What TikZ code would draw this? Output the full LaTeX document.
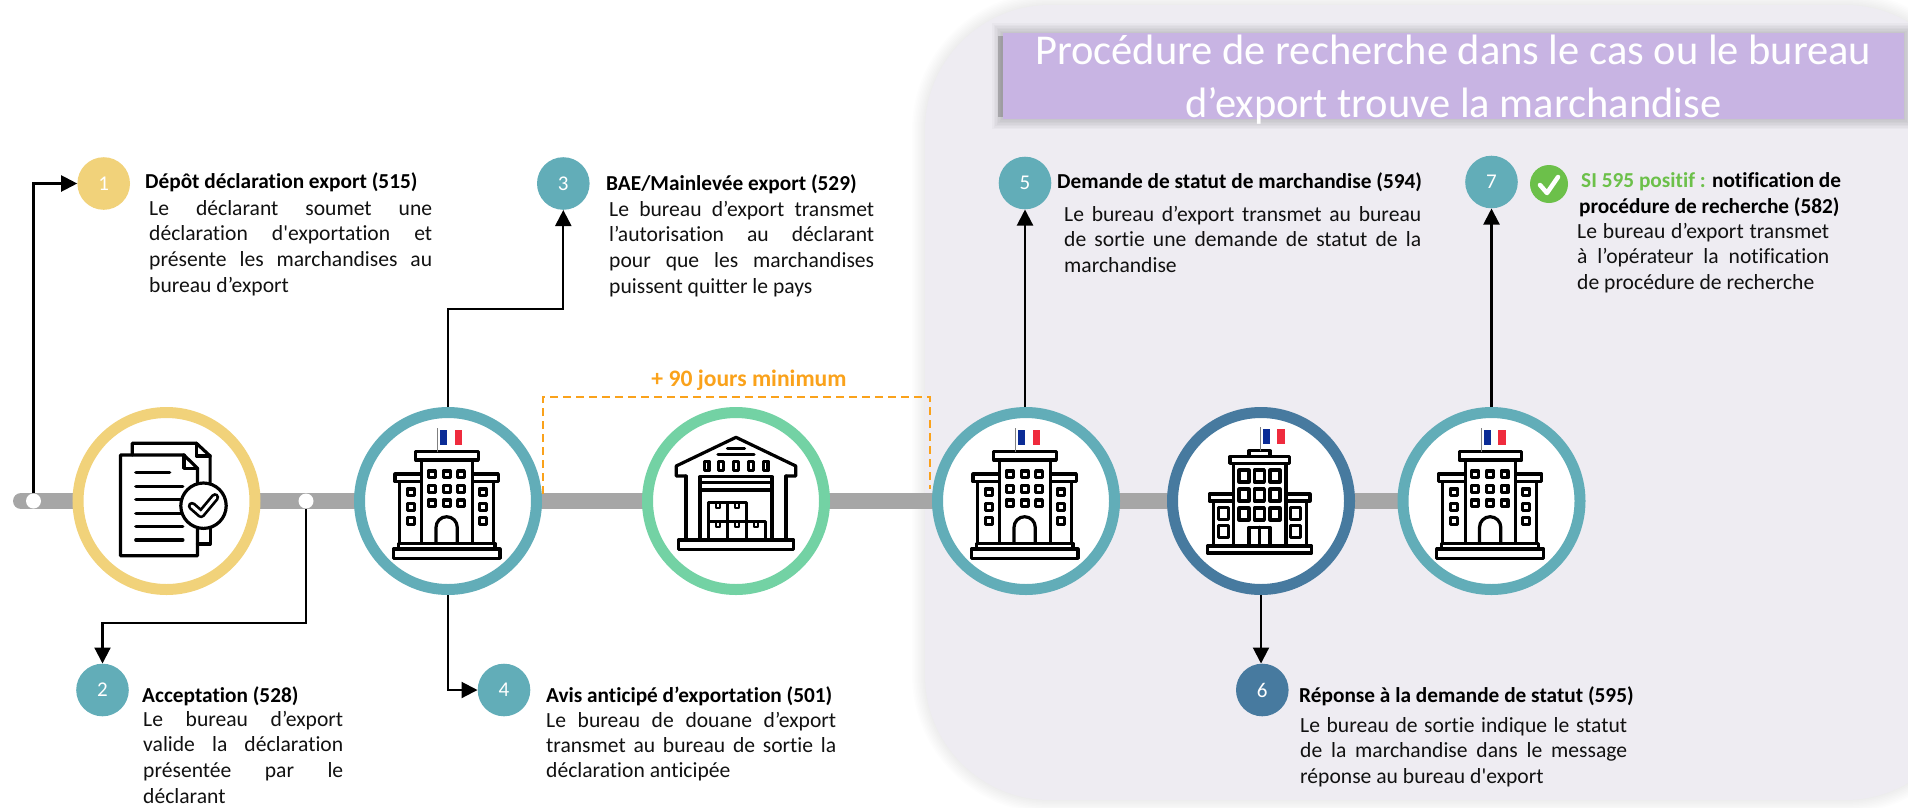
\documentclass[tikz,border=0pt]{standalone}
\usepackage{fontspec}
\setmainfont{Carlito}[Ligatures={TeXOff,CommonOff}]
\usetikzlibrary{arrows.meta}
\definecolor{cyellow}{HTML}{F1D27A}
\definecolor{cteal}{HTML}{62ADB8}
\definecolor{cgreen}{HTML}{73D2A4}
\definecolor{cdark}{HTML}{477A9F}
\definecolor{ctrack}{HTML}{A6A6A6}
\definecolor{cpanel}{HTML}{EEECF2}
\definecolor{cbar}{HTML}{C8B4E3}
\definecolor{corange}{HTML}{FAA21B}
\definecolor{cok}{HTML}{6CC04A}
\definecolor{ftxt}{HTML}{111111}
\definecolor{cfblue}{HTML}{0B2C96}
\definecolor{cfred}{HTML}{EF2B3D}
% one justified line, one left line, one centred line (width = \bw)
\newcommand{\myjl}[1]{\hbox to \bw{#1}}
\newcommand{\myll}[1]{\hbox to \bw{#1\hfil}}
\newcommand{\mycl}[1]{\hbox to \bw{\hfil #1\hfil}}
\newcommand{\myblock}[3]{\def\bw{#1}\vtop{\baselineskip=#2pt\lineskiplimit=-100pt\relax #3}}
\tikzset{
  x=1pt,y=-1pt,
  ring/.style={circle,draw=#1,line width=11pt,fill=white,minimum size=177pt,inner sep=0pt},
  num/.style={circle,fill=#1,text=white,minimum size=52.6pt,inner sep=0pt,font=\fontsize{21}{21}\selectfont},
  marker/.style={circle,fill=white,minimum size=15pt,inner sep=0pt},
  flow/.style={draw=black,line width=2.1pt,-{Triangle[length=16pt,width=16pt]}},
  head/.style={anchor=base west,inner sep=0pt,font=\fontsize{21.3}{21.3}\selectfont\bfseries,text=black},
  body/.style={anchor=base west,inner sep=0pt,font=\fontsize{21.6}{21.6}\selectfont,text=ftxt},
  icon/.style={line width=3.2pt,line join=round,line cap=round,draw=black},
  flagpic/.pic={
    \fill[white] (0,0) rectangle (22,14.5);
    \fill[cfblue] (0,0) rectangle (7.3,14.5);
    \fill[cfred] (14.7,0) rectangle (22,14.5);
    \draw[gray,line width=1.1pt] (-2.3,-2) -- (-2.3,22);
  },
  bldA/.pic={
    \draw[icon] (-54.7,48) rectangle (52,57.3);
    \draw[icon] (-49.7,42.3) rectangle (47,48);
    \draw[icon] (-53,-27) rectangle (-26.3,-19.3);
    \draw[icon] (24.3,-27) rectangle (50.3,-19.3);
    \draw[icon] (-48.7,-19.3) -- (-48.7,42.3);
    \draw[icon] (45.3,-19.3) -- (45.3,42.3);
    \draw[icon] (-26.3,-41) rectangle (24.3,42.3);
    \draw[icon] (-32.3,-49.3) rectangle (30.3,-41);
    \foreach \a in {-16.3,-1.3,13} \foreach \b in {-26.7,-12.3,2.3}
      \draw[icon,shift={(\a,\b)}] (-3.4,-3.4) rectangle (3.4,3.4);
    \foreach \a in {-37.3,34.7} \foreach \b in {-8.7,5.7,20}
      \draw[icon,shift={(\a,\b)}] (-3.4,-3.4) rectangle (3.4,3.4);
    \draw[icon] (-12,42.3) -- (-12,26.5) arc[start angle=180,end angle=0,x radius=10.65pt,y radius=10.8pt] -- (9.3,42.3);
    \pic at (-8,-71) {flagpic};
  },
  bldB/.pic={
    \draw[icon] (-53.7,45) rectangle (50.7,52);
    \draw[icon] (-51.7,-7) rectangle (-27.7,0);
    \draw[icon] (25,-7) rectangle (49,0);
    \draw[icon] (-47.7,0) -- (-47.7,45);
    \draw[icon] (45.7,0) -- (45.7,45);
    \draw[icon] (-27.7,-37.7) rectangle (25,45);
    \draw[icon] (-31,-44.3) rectangle (28.3,-37.7);
    \draw[icon] (-12,-50.3) rectangle (9,-44.3);
    \foreach \a in {-17,-1.7,14} \foreach \b in {-25,-6,13}
      \draw[icon,shift={(\a,\b)}] (-5,-6) rectangle (5,6);
    \foreach \a in {-37.7,34.3} \foreach \b in {12.3,30.7}
      \draw[icon,shift={(\a,\b)}] (-5,-6) rectangle (5,6);
    \draw[icon] (-12,45) -- (-12,26.3) -- (9,26.3) -- (9,45);
    \draw[icon] (-1.7,26.3) -- (-1.7,45);
    \pic at (1.7,-72) {flagpic};
  },
  docicon/.pic={
    \draw[icon] (-34.3,-46) -- (-34.3,-57.7) -- (30,-57.7) -- (43.6,-45) -- (43.6,-17.7);
    \draw[icon] (30,-57.7) -- (30,-45) -- (43.6,-45);
    \draw[icon] (43.6,27.3) -- (43.6,43) -- (31,43);
    \draw[icon] (-46.1,-46) -- (17.4,-46) -- (31,-32.7) -- (31,54.7) -- (-46.1,54.7) -- cycle;
    \draw[icon] (17.4,-46) -- (17.4,-32.7) -- (31,-32.7);
    \draw[icon] (-30.7,-28.3) -- (3.2,-28.3);
    \draw[icon] (-30.7,-14.7) -- (16.4,-14.7);
    \draw[icon] (-30.7,-1.3) -- (14,-1.3);
    \draw[icon] (-30.7,12.3) -- (14,12.3);
    \draw[icon] (-30.7,25.7) -- (16.4,25.7);
    \draw[icon] (-30.7,39) -- (16.4,39);
    \draw[icon,fill=white] (37,4.7) circle (22.7pt);
    \draw[line width=8.5pt,line cap=round,line join=round] (25.5,5) -- (34.6,13) -- (48.5,-3.7);
    \draw[line width=3pt,white,line cap=round,line join=round] (25.5,5) -- (34.6,13) -- (48.5,-3.7);
  },
  wareicon/.pic={
    \draw[icon] (-50,-25) -- (-59.8,-25) -- (-59.8,-35) -- (0,-63.7) -- (59.8,-35) -- (59.8,-25) -- (50,-25);
    \draw[icon] (-50,-25) -- (-50,39);
    \draw[icon] (50,-25) -- (50,39);
    \draw[icon] (-57.6,39) rectangle (57.6,48.3);
    \draw[icon] (-36,39) -- (-36,-24.3) -- (36,-24.3) -- (36,39);
    \draw[icon] (-36,-18.7) -- (36,-18.7);
    \draw[icon] (-36,-11) -- (36,-11);
    \draw[icon] (-8.5,-52.7) -- (8.5,-52.7);
    \draw[icon] (-18,-46.7) -- (18,-46.7);
    \foreach \a in {-29.5,-15,0,14.7,29.5}
      \draw[icon,shift={(\a,-35)}] (-2.4,-4.5) rectangle (2.4,4.5);
    \draw[icon] (-27.7,1.7) rectangle (10.3,20.7);
    \draw[icon] (-8.5,1.7) -- (-8.5,20.7);
    \draw[icon] (-27.7,20.7) rectangle (29.5,39);
    \draw[icon] (-8.5,20.7) -- (-8.5,39);
    \draw[icon] (10.3,20.7) -- (10.3,39);
    \foreach \a in {-18,1,20}
      \draw[icon,line width=2pt] (\a-2,20.7) -- (\a-2,26) -- (\a+2,26) -- (\a+2,20.7);
    \foreach \a in {-18,1}
      \draw[icon,line width=2pt] (\a-2,1.7) -- (\a-2,7) -- (\a+2,7) -- (\a+2,1.7);
  },
}
\begin{document}
\begin{tikzpicture}
\useasboundingbox (0,0) rectangle (1908,807);
% panel with soft shadow
\foreach \w in {26,23,20,17,14,11,8,5,2}
  \draw[black,opacity=.008,line width=\w pt,rounded corners=125pt] (925,5) rectangle (1970,800);
\fill[cpanel,rounded corners=125pt] (925,5) rectangle (1970,800);
% title band with shadow
\foreach \w in {20,17,14,11,8,5,2}
  \draw[black,opacity=.024,line width=\w pt] (1002,33) rectangle (1904,119);
\fill[black,opacity=.2] (998,36) rectangle (1004,117);
\fill[cbar] (1003,33) rectangle (1904,119);
\node[anchor=base west,inner sep=0pt,text=white,font=\fontsize{42.5}{42.5}\selectfont] (title) at (1003,64)
  {\myblock{900pt}{53}{\mycl{Procédure de recherche dans le cas ou le bureau}\mycl{d’export trouve la marchandise}}};
% track
\coordinate (tstart) at (21,501);
\coordinate (tend) at (1491.5,501);
\draw[ctrack,line width=16pt,line cap=round] (tstart) -- (tend);
% dashed bracket
\coordinate (da) at (543,494);
\coordinate (db) at (543,397);
\coordinate (dc) at (930,397);
\coordinate (dd) at (930,489);
\draw[corange,line width=1.9pt,dash pattern=on 8pt off 5pt] (da) -- (db) -- (dc) -- (dd);
\node[anchor=base,inner sep=0pt,text=corange,font=\fontsize{23.6}{23.6}\selectfont\bfseries] (delay) at (749,386) {+ 90 jours minimum};
% big circles
\node[ring=cyellow] (c1) at (166.5,501) {};
\node[ring=cteal]   (c2) at (448,501) {};
\node[ring=cgreen]  (c3) at (736,501) {};
\node[ring=cteal]   (c4) at (1026,501) {};
\node[ring=cdark]   (c5) at (1261,501) {};
\node[ring=cteal]   (c6) at (1491.5,501) {};
% icons
\pic at (166.5,501) {docicon};
\pic at (448,501) {bldA};
\pic at (736,501) {wareicon};
\pic at (1026,501) {bldA};
\pic at (1261,501) {bldB};
\pic at (1491.5,501) {bldA};
% markers
\node[marker] (m1) at (33.5,501) {};
\node[marker] (m2) at (306,501) {};
% numbered discs
\node[num=cyellow] (n1) at (103.7,183.5) {1};
\node[num=cteal]   (n2) at (102.5,690) {2};
\node[num=cteal]   (n3) at (563.3,183.5) {3};
\node[num=cteal]   (n4) at (504,690) {4};
\node[num=cteal]   (n5) at (1025,183) {5};
\node[num=cdark]   (n6) at (1262.3,690) {6};
\node[num=cteal]   (n7) at (1491.5,182) {7};
% connectors
\draw[flow] (m1.north) |- (n1.west);
\coordinate (k2) at (306,623);
\draw[flow] (m2.south) -- (k2) -| (n2.north);
\coordinate (k3a) at (448,309);
\coordinate (k3b) at (563.3,309);
\draw[flow] (c2.north) -- (k3a) -- (k3b) -- (n3.south);
\draw[flow] (c2.south) |- (n4.west);
\draw[flow] (c4.north -| n5.south) -- (n5.south);
\draw[flow] (c5.south) -- (c5.south |- n6.north);
\draw[flow] (c6.north) -- (n7.south);
% texts
\node[head] (t1) at (145,188) {Dépôt déclaration export (515)};
\node[body] (b1) at (149,215) {\myblock{283pt}{25.7}{\myjl{Le déclarant soumet une}\myjl{déclaration d'exportation et}\myjl{présente les marchandises au}\myll{bureau d’export}}};
\node[head] (t2) at (142,702) {Acceptation (528)};
\node[body] (b2) at (143,726) {\myblock{200pt}{25.7}{\myjl{Le bureau d’export}\myjl{valide la déclaration}\myjl{présentée par le}\myll{déclarant}}};
\node[head] (t3) at (606,190) {BAE/Mainlevée export (529)};
\node[body] (b3) at (609,216) {\myblock{265pt}{25.7}{\myjl{Le bureau d’export transmet}\myjl{l’autorisation au déclarant}\myjl{pour que les marchandises}\myll{puissent quitter le pays}}};
\node[head] (t4) at (546,702) {Avis anticipé d’exportation (501)};
\node[body] (b4) at (546,727) {\myblock{290pt}{25.2}{\myjl{Le bureau de douane d’export}\myjl{transmet au bureau de sortie la}\myll{déclaration anticipée}}};
\node[head] (t5) at (1057,188) {Demande de statut de marchandise (594)};
\node[body] (b5) at (1064,221) {\myblock{357pt}{25.5}{\myjl{Le bureau d’export transmet au bureau}\myjl{de sortie une demande de statut de la}\myll{marchandise}}};
\node[head] (t6) at (1299,702) {Réponse à la demande de statut (595)};
\node[body] (b6) at (1300,732) {\myblock{327pt}{25.5}{\myjl{Le bureau de sortie indique le statut}\myjl{de la marchandise dans le message}\myll{réponse au bureau d'export}}};
% step 7
\node[circle,fill=cok,minimum size=38pt,inner sep=0pt] (ck) at (1549,184) {};
\coordinate (ck1) at (1540,185);
\coordinate (ck2) at (1547,193);
\coordinate (ck3) at (1558,177);
\draw[white,line width=4.5pt,line cap=round,line join=round] (ck1) -- (ck2) -- (ck3);
\node[head] (t7) at (1581,187) {\textcolor{cok}{SI 595 positif :} notification de};
\node[head] (t7b) at (1579,213) {procédure de recherche (582)};
\node[body] (b7) at (1577,238) {\myblock{252pt}{25.5}{\myjl{Le bureau d’export transmet}\myjl{à l’opérateur la notification}\myll{de procédure de recherche}}};
\end{tikzpicture}
\end{document}
